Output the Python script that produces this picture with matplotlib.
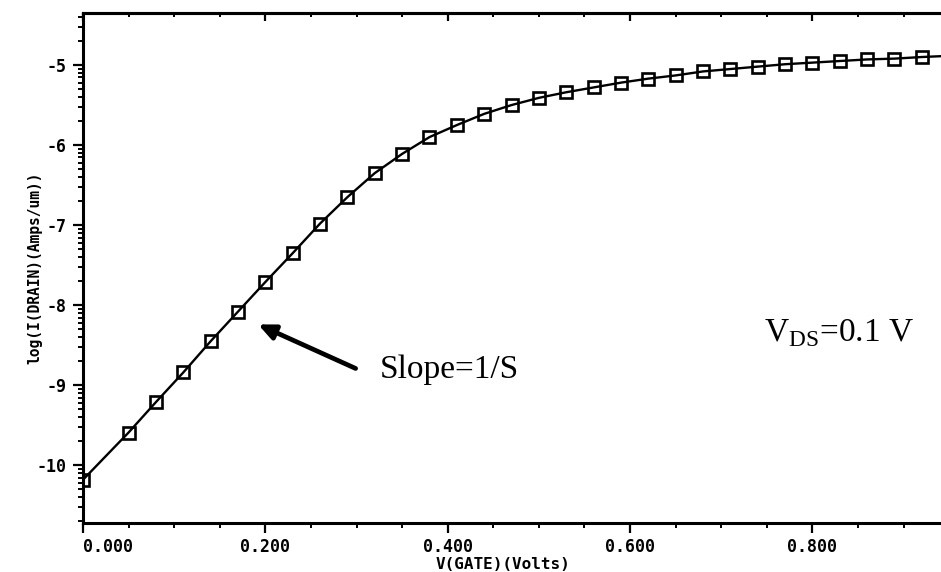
import numpy as np
import matplotlib
matplotlib.use("Agg")
import matplotlib.pyplot as plt
from matplotlib.font_manager import FontProperties
from matplotlib.ticker import FixedLocator, FuncFormatter

plt.rcParams['mathtext.fontset'] = 'custom'
plt.rcParams['mathtext.rm'] = 'Liberation Serif'

# Gate voltage sweep (V) and log10 of drain current (A/um), Vds = 0.1 V
v_gate = [0.00, 0.05, 0.08, 0.11, 0.14, 0.17, 0.20, 0.23, 0.26, 0.29, 0.32,
          0.35, 0.38, 0.41, 0.44, 0.47, 0.50, 0.53, 0.56, 0.59, 0.62, 0.65,
          0.68, 0.71, 0.74, 0.77, 0.80, 0.83, 0.86, 0.89, 0.92, 0.95]
log_id = [-10.18, -9.59, -9.21, -8.84, -8.45, -8.08, -7.71, -7.35, -6.98,
          -6.65, -6.35, -6.11, -5.90, -5.75, -5.61, -5.50, -5.41, -5.34,
          -5.28, -5.22, -5.17, -5.13, -5.08, -5.05, -5.02, -4.99, -4.97,
          -4.95, -4.93, -4.92, -4.90, -4.885]

x_major = [0.0, 0.2, 0.4, 0.6, 0.8]
y_major = [-10, -9, -8, -7, -6, -5]

mono = dict(family='DejaVu Sans Mono', weight='bold')

fig = plt.figure(figsize=(9.41, 5.72), dpi=100)
ax = fig.add_axes([0.0882, 0.0857, 0.9118, 0.8916])

# curve with open squares on every computed point (last point only extends the line)
ax.plot(v_gate, log_id, color='black', lw=1.7, marker='s', markersize=9,
        markerfacecolor='none', markeredgecolor='black', markeredgewidth=1.9,
        markevery=slice(0, len(v_gate) - 1))

ax.set_xlim(0, 0.941)
ax.set_ylim(-10.72, -4.35)

ax.spines['right'].set_visible(False)
for sp in ['left', 'bottom', 'top']:
    ax.spines[sp].set_linewidth(2.2)

ax.xaxis.set_major_locator(FixedLocator(x_major))
ax.xaxis.set_minor_locator(FixedLocator(np.arange(0, 0.95, 0.05)))
ax.xaxis.set_major_formatter(FuncFormatter(lambda v, p: f"{v:.3f}"))

# log-decade minor ticks on the log(I) axis
minors = [d + np.log10(k) for d in range(-11, -4) for k in range(2, 10)]
ax.yaxis.set_major_locator(FixedLocator(y_major))
ax.yaxis.set_minor_locator(FixedLocator(minors))
ax.yaxis.set_major_formatter(FuncFormatter(lambda v, p: f"{v:.0f}"))

ax.tick_params(which='major', direction='out', length=7, width=1.6)
ax.tick_params(axis='x', which='major', pad=4)
ax.tick_params(axis='y', which='major', pad=5)
ax.tick_params(which='minor', direction='out', length=3.5, width=1.4)
ax.tick_params(right=False)
tick_font = FontProperties(size=12, **mono)
for lab in ax.get_xticklabels() + ax.get_yticklabels():
    lab.set_fontproperties(tick_font)
# first x label sits to the right of the origin
ax.get_xticklabels()[0].set_horizontalalignment('left')

# inward ticks along the top frame
top = ax.secondary_xaxis('top')
top.xaxis.set_major_locator(FixedLocator(x_major))
top.xaxis.set_minor_locator(FixedLocator(np.arange(0, 0.95, 0.05)))
top.tick_params(which='major', direction='in', length=6, width=1.6, labeltop=False)
top.tick_params(which='minor', direction='in', length=3, width=1.4)
top.spines['top'].set_linewidth(2.2)

ax.set_xlabel("V(GATE)(Volts)", fontsize=11.5, **mono)
ax.xaxis.set_label_coords(0.49, -0.066)
ax.set_ylabel("log(I(DRAIN)(Amps/um))", fontsize=10.5, **mono)
ax.yaxis.set_label_coords(-0.047, 0.5)

ax.annotate("", xy=(0.192, -8.24), xytext=(0.299, -8.79),
            arrowprops=dict(arrowstyle='-|>,head_length=1.0,head_width=0.45',
                            color='black', lw=3.4, shrinkA=0, shrinkB=0))
ax.text(0.325, -8.81, "Slope=1/S", fontsize=24, family='Liberation Serif',
        va='center', ha='left')
ax.text(0.747, -8.35, r"V$_{\mathrm{DS}}$=0.1 V", fontsize=24,
        family='Liberation Serif', va='center', ha='left')

fig.savefig("out.png", dpi=100)
